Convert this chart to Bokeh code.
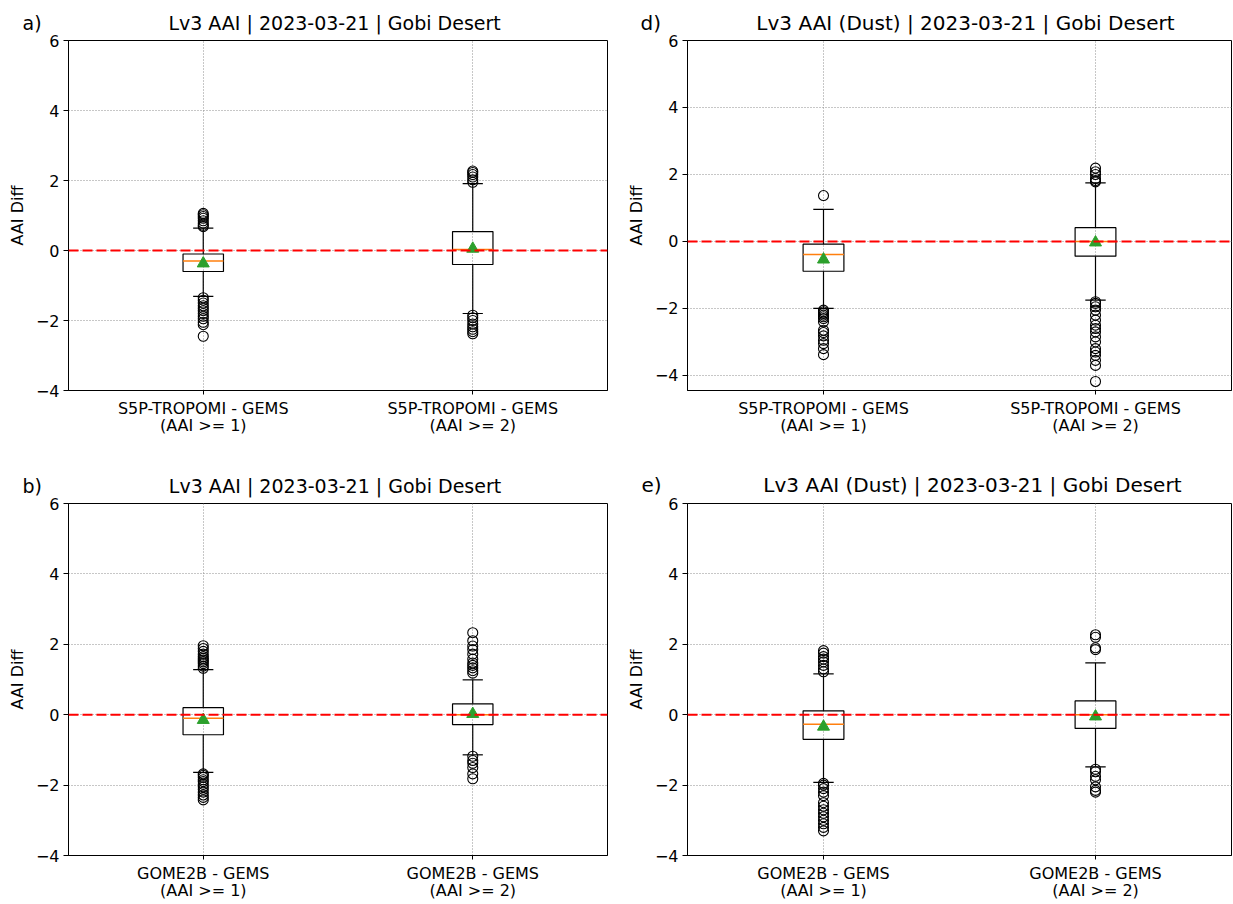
from bokeh.plotting import figure
from bokeh.models import Range1d, FixedTicker, Span
from bokeh.layouts import row, column
from bokeh.embed import file_html
from bokeh.resources import INLINE

FONT = "DejaVu Sans"
NBSP = "\u00a0"

positions = [1, 2]
y_ticks = [-4, -2, 0, 2, 4, 6]
y_tick_labels = ["\u22124", "\u22122", "0", "2", "4", "6"]
tropomi_labels = ["S5P-TROPOMI - GEMS\n(AAI >= 1)", "S5P-TROPOMI - GEMS\n(AAI >= 2)"]
gome_labels = ["GOME2B - GEMS\n(AAI >= 1)", "GOME2B - GEMS\n(AAI >= 2)"]
title_aai = "Lv3 AAI | 2023-03-21 | Gobi Desert"
title_dust = "Lv3 AAI (Dust) | 2023-03-21 | Gobi Desert"

# ---- panel a) Lv3 AAI, S5P-TROPOMI - GEMS
a_q1 = [-0.60, -0.40]
a_q3 = [-0.10, 0.54]
a_med = [-0.30, 0.03]
a_mean = [-0.37, 0.05]
a_whis_lo = [-1.31, -1.80]
a_whis_hi = [0.64, 1.91]
a_out_1 = [0.68, 0.72, 0.78, 0.85, 0.92, 0.97, 1.02, 1.06,
           -1.35, -1.42, -1.50, -1.58, -1.65, -1.72, -1.80, -1.88, -1.95, -2.05, -2.12, -2.45]
a_out_2 = [1.95, 2.02, 2.10, 2.17, 2.23, 2.27,
           -1.85, -1.92, -2.00, -2.10, -2.18, -2.25, -2.32, -2.38]

# ---- panel b) Lv3 AAI, GOME2B - GEMS
b_q1 = [-0.57, -0.28]
b_q3 = [0.20, 0.31]
b_med = [-0.10, 0.00]
b_mean = [-0.15, 0.02]
b_whis_lo = [-1.64, -1.14]
b_whis_hi = [1.28, 0.99]
b_out_1 = [1.32, 1.38, 1.45, 1.50, 1.55, 1.60, 1.65, 1.72, 1.80, 1.88, 1.96,
           -1.68, -1.72, -1.78, -1.85, -1.90, -1.98, -2.05, -2.12, -2.20, -2.28, -2.35, -2.42]
b_out_2 = [1.18, 1.25, 1.33, 1.40, 1.47, 1.58, 1.72, 1.85, 1.95, 2.10, 2.33,
           -1.18, -1.30, -1.38, -1.50, -1.68, -1.82]

# ---- panel d) Lv3 AAI (Dust), S5P-TROPOMI - GEMS
d_q1 = [-0.89, -0.44]
d_q3 = [-0.08, 0.41]
d_med = [-0.39, 0.00]
d_mean = [-0.54, -0.03]
d_whis_lo = [-2.00, -1.75]
d_whis_hi = [0.96, 1.75]
d_out_1 = [1.37,
           -2.05, -2.10, -2.15, -2.20, -2.25, -2.30, -2.40, -2.65, -2.72, -2.82, -2.95, -3.05, -3.20, -3.38]
d_out_2 = [1.78, 1.82, 1.88, 2.00, 2.08, 2.19,
           -1.80, -1.85, -1.95, -2.05, -2.20, -2.35, -2.50, -2.60, -2.70, -2.85, -3.00, -3.20,
           -3.30, -3.40, -3.55, -3.70, -4.18]

# ---- panel e) Lv3 AAI (Dust), GOME2B - GEMS
e_q1 = [-0.70, -0.39]
e_q3 = [0.11, 0.39]
e_med = [-0.27, 0.00]
e_mean = [-0.34, -0.05]
e_whis_lo = [-1.92, -1.48]
e_whis_hi = [1.16, 1.47]
e_out_1 = [1.22, 1.30, 1.40, 1.50, 1.58, 1.65, 1.75, 1.82,
           -1.95, -2.00, -2.10, -2.20, -2.30, -2.50, -2.60, -2.70, -2.80, -2.90, -3.00, -3.10, -3.20, -3.30]
e_out_2 = [1.85, 1.90, 2.20, 2.27,
           -1.55, -1.62, -1.75, -1.85, -2.05, -2.15, -2.20]

BOX_W = 0.15
X0, X1 = 0.5, 2.5
YMAX = 6


def make_panel(letter, title, labels, q1, q3, med, mean, wlo, whi, out1, out2,
               ymin, width, height, bl, br, bt, bb, title_px, gap, letter_off, standoff):
    # the panel letter shares the title line, placed left of the frame
    full_title = letter + NBSP * gap + title
    p = figure(width=width, height=height, output_backend="svg", toolbar_location=None,
               x_range=Range1d(X0, X1), y_range=Range1d(ymin, YMAX),
               min_border_left=bl, min_border_right=br, min_border_top=bt, min_border_bottom=bb,
               title=full_title)
    p.title.text_font = FONT
    p.title.text_font_size = f"{title_px}px"
    p.title.text_font_style = "normal"
    p.title.align = "left"
    p.title.offset = letter_off
    p.title.standoff = standoff
    p.title.text_color = "black"
    p.outline_line_color = "black"
    p.outline_line_alpha = 1
    p.outline_line_width = 1
    p.background_fill_color = "white"
    p.border_fill_color = "white"

    for ax in (p.xaxis, p.yaxis):
        ax.axis_line_color = "black"
        ax.major_tick_line_color = "black"
        ax.major_tick_in = 0
        ax.minor_tick_line_color = None
        ax.major_label_text_font = FONT
        ax.major_label_text_color = "black"
    p.xaxis.ticker = FixedTicker(ticks=positions)
    p.xaxis.major_label_overrides = {pos: lab for pos, lab in zip(positions, labels)}
    p.xaxis.major_tick_out = 4
    p.xaxis.major_label_standoff = 4
    p.xaxis.major_label_text_font_size = "16px"
    p.xaxis.major_label_text_line_height = 0.92
    p.yaxis.ticker = FixedTicker(ticks=y_ticks)
    p.yaxis.major_label_overrides = {t: s for t, s in zip(y_ticks, y_tick_labels)}
    p.yaxis.major_tick_out = 5
    p.yaxis.major_label_standoff = 4
    p.yaxis.major_label_text_font_size = "16px"
    p.yaxis.axis_label = "AAI Diff"
    p.yaxis.axis_label_text_font = FONT
    p.yaxis.axis_label_text_font_size = "16px"
    p.yaxis.axis_label_text_font_style = "normal"
    p.yaxis.axis_label_text_color = "black"
    p.yaxis.axis_label_standoff = 6

    p.xgrid.ticker = FixedTicker(ticks=positions)
    p.ygrid.ticker = FixedTicker(ticks=y_ticks)
    for g in (p.xgrid, p.ygrid):
        g.grid_line_color = "#8f8f8f"
        g.grid_line_dash = "1 2"
        g.grid_line_width = 1

    left = [x - BOX_W / 2 for x in positions]
    right = [x + BOX_W / 2 for x in positions]
    cap_l = [x - BOX_W / 4 for x in positions]
    cap_r = [x + BOX_W / 4 for x in positions]

    # whiskers
    p.segment(x0=positions, y0=q3, x1=positions, y1=whi, line_color="black", line_width=1.2)
    p.segment(x0=positions, y0=q1, x1=positions, y1=wlo, line_color="black", line_width=1.2)
    # caps
    p.segment(x0=cap_l, y0=whi, x1=cap_r, y1=whi, line_color="black", line_width=1.2)
    p.segment(x0=cap_l, y0=wlo, x1=cap_r, y1=wlo, line_color="black", line_width=1.2)
    # boxes
    p.quad(left=left, right=right, bottom=q1, top=q3, fill_color=None,
           line_color="black", line_width=1.2)
    # medians
    p.segment(x0=left, y0=med, x1=right, y1=med, line_color="#ff7f0e", line_width=1.6)
    # outliers
    ox = [positions[0]] * len(out1) + [positions[1]] * len(out2)
    p.scatter(x=ox, y=out1 + out2, marker="circle", size=10, fill_color=None,
              line_color="black", line_width=1.1)

    p.add_layout(Span(location=0, dimension="width", line_color="red",
                      line_width=2, line_dash="10 4"))
    # means
    p.scatter(x=positions, y=mean, marker="triangle", size=12,
              fill_color="#2ca02c", line_color="#2ca02c")
    return p


pa = make_panel("a)", title_aai, tropomi_labels,
                a_q1, a_q3, a_med, a_mean, a_whis_lo, a_whis_hi, a_out_1, a_out_2,
                -4, 620, 460, 68, 13, 40, 70, 19, 21, -46, 14)
pb = make_panel("b)", title_aai, gome_labels,
                b_q1, b_q3, b_med, b_mean, b_whis_lo, b_whis_hi, b_out_1, b_out_2,
                -4, 620, 444, 68, 13, 43, 49, 19, 21, -46, 14)
pd_ = make_panel("d)", title_dust, tropomi_labels,
                 d_q1, d_q3, d_med, d_mean, d_whis_lo, d_whis_hi, d_out_1, d_out_2,
                 -4.45, 613, 460, 67, 2, 37, 70, 20, 15, -47, 11)
pe = make_panel("e)", title_dust, gome_labels,
                e_q1, e_q3, e_med, e_mean, e_whis_lo, e_whis_hi, e_out_1, e_out_2,
                -4, 613, 444, 67, 2, 40, 49, 20, 16, -46, 13)

layout = column(row(pa, pd_), row(pb, pe))
open("out.html", "w").write(file_html(layout, INLINE))
